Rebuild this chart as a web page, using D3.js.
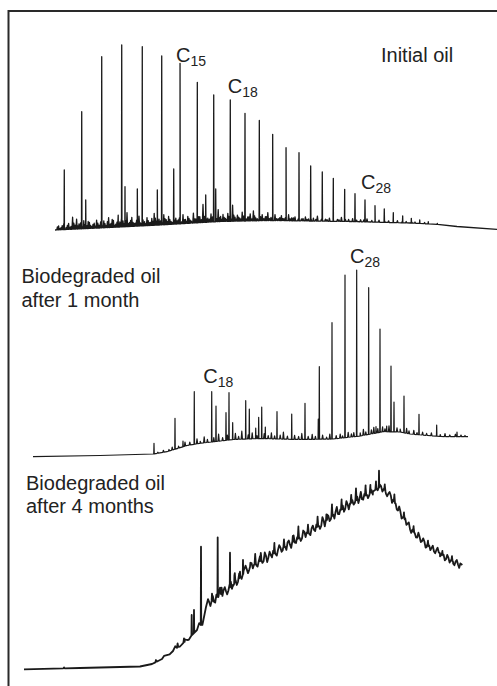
<!DOCTYPE html>
<html><head><meta charset="utf-8">
<script src="https://cdn.jsdelivr.net/npm/d3@7"></script>
<style>
html,body{margin:0;padding:0;background:#fff;}
svg{display:block;}
text{font-family:"Liberation Sans",Arial,Helvetica,sans-serif;fill:#222;}
</style></head>
<body>
<script>
// ---------- DATA (retention time in min, intensity in %) ----------
const panelNames = ["Initial oil", "Biodegraded oil after 1 month", "Biodegraded oil after 4 months"];

// Initial oil
const base1 = [[0,2.5],[5.6,3.5],[13.1,5],[20.6,6.75],[26.9,7.25],[36.9,6.75],[44.4,6],[47.75,5.35],[50.25,4.25],[55.25,2.85]];
const peaks1 = [[1.16,32.5],[3.34,61.65],[3.84,17.5],[5.84,89.15],[8.34,95],[8.75,24.15],[10.29,23],[10.91,94.15],[12.79,22.5],[13.34,89.5],[14.84,33],[15.63,85.85],[17.79,76.35],[18.84,20],[19.84,70],[20.09,23],[21.91,67.5],[23.75,60.85],[25.54,57.25],[27.21,50.35],[28.88,43.65],[30.5,41.15],[31.96,34.5],[33.41,31.5],[34.79,28.35],[36.21,22.85],[37.5,20.65],[38.75,17.5],[40,14.65],[41.16,13],[42.29,11.15],[43.46,9.5],[44.54,8.35],[45.59,7.5],[46.66,6.65],[47.79,5.85]];
const grass1 = [[0.3,1.5],[0.6,0.5],[0.9,2],[1.4,1],[1.7,3],[2.0,1.5],[2.2,6],[2.5,2],[2.7,5],[3.0,2.5],[3.6,4],[4.0,1.5],[4.3,3],[4.6,1],[4.9,2.5],[5.2,4],[5.5,1.5],[6.1,3.5],[6.4,1],[6.7,5],[7.0,2],[7.3,3.5],[7.6,1.5],[7.9,6],[8.1,2.5],[8.5,3],[9.0,7],[9.3,2],[9.6,4.5],[9.9,1.5],[10.2,3],[10.5,5],[11.2,2],[11.5,4],[11.8,1.5],[12.1,3.5],[12.4,6],[12.7,2],[13.0,3],[13.6,5],[13.9,2.5],[14.2,4],[14.5,1.5],[15.1,3],[15.4,2],[16.0,4.5],[16.3,2],[16.6,3.5],[16.9,1.5],[17.3,5],[17.6,2],[18.1,3],[18.5,9],[18.7,3],[19.1,2],[19.5,4],[20.4,6],[20.7,2.5],[21.0,3.5],[21.3,1.5],[21.6,4],[22.2,8],[22.5,2],[22.8,3],[23.1,1.5],[23.4,4.5],[24.1,2],[24.4,3.5],[24.8,5],[25.1,1.5],[25.9,3],[26.3,2],[26.6,4],[27.0,1.5],[27.5,3],[27.9,1],[28.3,2.5],[28.6,1],[29.2,3],[29.6,1.5],[30.0,2],[30.8,1],[31.3,2],[31.7,1],[32.3,1.5],[32.8,2.5],[33.8,1],[34.3,1.5],[35.3,1],[35.8,2],[36.7,1],[37.2,1.5],[38.2,1],[39.0,1.5],[39.6,0.8],[40.5,1],[41.7,0.8],[42.8,1],[43.9,0.7],[45.0,0.6],[46.2,0.6]];
const grass1b = [[0.45,2],[0.75,1],[1.1,3],[1.55,2],[1.85,1],[2.35,3],[2.85,1.5],[3.2,3],[3.45,1],[3.75,2],[4.15,3.5],[4.45,1.5],[4.75,2],[5.05,1],[5.35,2.5],[5.7,3],[5.95,1],[6.25,2],[6.55,3],[6.85,1.5],[7.15,4],[7.45,1],[7.75,2.5],[8.0,1.5],[8.3,4],[8.65,1.5],[8.85,3],[9.15,1.5],[9.45,3],[9.75,2],[10.05,1.5],[10.35,3.5],[10.7,1.5],[11.0,3],[11.35,1],[11.65,2.5],[11.95,1.5],[12.25,2],[12.55,3.5],[12.85,1.5],[13.2,2],[13.45,1],[13.75,3],[14.05,1.5],[14.35,2.5],[14.65,1],[14.95,2],[15.25,1.5],[15.55,3],[15.85,1],[16.15,2],[16.45,1],[16.75,2.5],[17.05,1],[17.45,2],[17.8,1.5],[17.95,3],[18.3,1.5],[18.9,2],[19.3,1.5],[19.7,2.5],[20.2,1.5],[20.55,2],[20.85,1],[21.15,2],[21.45,1],[21.75,2.5],[22.05,1],[22.35,3],[22.65,1],[22.95,2],[23.25,1],[23.6,2.5],[23.9,1],[24.25,2],[24.6,1],[24.95,2.5],[25.3,1],[25.7,2],[26.1,1],[26.45,2],[26.8,1],[27.2,2],[27.7,1],[28.1,1.5],[28.45,1],[28.8,1.5],[29.4,1],[29.8,1.5],[30.4,1],[31.0,1.2],[31.5,0.8],[32.0,1.2],[32.6,0.8],[33.3,1],[34.0,0.8],[34.8,1],[35.5,0.8],[36.3,1],[37.7,0.8],[38.6,1],[40.0,0.7],[41.2,0.7],[42.3,0.8],[43.4,0.6],[44.6,0.5]];

// After 1 month
const base2 = [[0,1.65],[8.375,2.25],[15,3],[16.75,4.15],[19.25,7.25],[20.875,8.35],[25,10.25],[28.375,10.75],[33.375,10.25],[37.5,10.5],[40.875,12],[43.75,14.15],[45.875,14],[47.125,13],[50.875,11.75],[54.375,11.65]];
const peaks2 = [[15.125,8.35],[17.75,20.85],[18.75,9.5],[20.16,34.15],[22.34,34.15],[22.875,27],[24.125,23.65],[24.5,33.65],[24.96,18.65],[26.59,29.65],[27.04,25.5],[27.84,16],[28.21,21.35],[28.59,26.5],[29.04,16.5],[30.5,24.15],[32.34,23],[34,28.35],[35.66,20.5],[35.79,46.65],[37.375,68.65],[39,92.5],[40.46,95],[41.96,86.15],[42.875,16.65],[43.375,65.5],[44.21,17],[44.75,47],[45.125,29],[46.375,32],[48.25,22.85],[50.46,17.5],[53,14]];
const grass2 = [[15.6,0.5],[16.3,1],[17.0,0.8],[17.4,1.5],[18.2,1],[19.0,2],[19.6,1.5],[20.5,2.5],[20.9,1],[21.4,3],[21.8,1.5],[22.6,2],[23.2,3.5],[23.7,1.5],[24.3,2.5],[25.3,3],[25.7,1.5],[26.1,4],[26.9,2],[27.4,3],[28.0,1.5],[28.9,2.5],[29.4,1.5],[29.8,3],[30.2,1.5],[30.9,2],[31.3,3.5],[31.8,1.5],[32.7,2],[33.2,1.5],[33.6,3],[34.4,1.5],[34.9,2.5],[35.3,1.5],[36.2,2],[36.7,1],[37.1,2.5],[37.9,1.5],[38.4,2],[38.7,1],[39.4,2.5],[39.8,1.5],[40.1,2],[40.9,1.5],[41.3,3],[41.6,1.5],[42.3,2],[42.6,3],[43.1,2],[43.7,2.5],[44.0,1.5],[44.5,3],[45.5,2],[45.9,1.5],[46.7,2.5],[47.0,1.5],[47.6,2],[48.0,1],[48.7,1.5],[49.2,1],[49.8,1.5],[50.9,1],[51.5,1.5],[52.1,0.8],[52.8,1.2],[53.5,0.8],[54.0,0.6]];

// After 4 months
const base3 = [[0,2.85],[7,3.5],[14.5,4.25],[16,5.5],[17.25,8],[18.625,12],[20.375,17.5],[21.625,22.5],[22.375,26.5],[22.75,34],[24.125,39],[26.125,45],[28.25,54],[32.375,63.5],[36.625,74],[40.75,85.75],[43.625,91.75],[44.625,94.5],[46.125,87.5],[47.375,79],[48.625,71.75],[50.375,65],[52,60.85],[53.625,56.65],[54.79,55]];
const peaks3 = [[20.96,30],[21.25,32.5],[22.125,64.15],[24.21,68.85],[25.75,61.15],[27.375,57.5],[44.375,102.15]];
const grass3 = [[5,0.5],[16.5,1],[19.2,2],[20.0,2],[23.5,4],[24.7,3],[26.35,5],[27.0,3],[28.9,5],[29.6,4],[31.3,5],[32.5,4],[33.6,3],[34.3,6],[35.5,4],[36.7,5],[37.8,3],[38.5,6],[39.7,5],[40.9,4],[41.5,6],[42.7,5],[43.3,4],[44.0,4],[45.1,3],[46.3,4],[47.5,3],[48.7,3],[50.5,2.5],[52.3,2],[53.5,2.5]];
const jitter3 = [[17.5,0.8],[18.2,-0.5],[18.9,1.5],[19.5,-0.5],[20.1,1.2],[20.6,-0.8],[21.9,2],[22.3,-1],[23.0,3],[23.3,-1.5],[23.6,2.5],[23.9,-2],[24.5,3.5],[24.8,-1.5],[25.1,2],[25.4,-2.5],[25.7,1.5],[26.0,-1.5],[26.3,4],[26.6,-2],[26.9,2.5],[27.2,-1.5],[27.7,3],[28.0,-2],[28.3,2],[28.6,-1.5],[28.9,4.5],[29.2,-2],[29.5,2.5],[29.8,-1.5],[30.1,3],[30.4,-2.5],[30.7,2],[31.0,-1.5],[31.3,4],[31.6,-2],[31.9,2.5],[32.2,-1.5],[32.5,3.5],[32.8,-2],[33.1,2],[33.4,-2.5],[33.7,3],[34.0,-1.5],[34.3,5],[34.6,-2],[34.9,2.5],[35.2,-1.5],[35.5,3.5],[35.8,-2],[36.1,2],[36.4,-1.5],[36.7,4.5],[37.0,-2],[37.3,3],[37.6,-2.5],[37.9,2.5],[38.2,-1.5],[38.5,5],[38.8,-2],[39.1,3],[39.4,-1.5],[39.7,4],[40.0,-2],[40.3,2.5],[40.6,-2.5],[40.9,3.5],[41.2,-1.5],[41.5,5.5],[41.8,-2],[42.1,3],[42.4,-1.5],[42.7,4],[43.0,-2],[43.3,3],[43.6,-1.5],[44.0,3],[44.8,-2],[45.1,2.5],[45.4,-1.5],[45.7,2],[46.0,-2],[46.3,3.5],[46.6,-1.5],[46.9,2],[47.2,-2],[47.5,2.5],[47.8,-1.5],[48.1,1.5],[48.4,-2],[48.7,2.5],[49.0,-1.5],[49.3,2],[49.6,-1.5],[49.9,1.5],[50.2,-2],[50.5,2],[50.8,-1.5],[51.1,1.5],[51.4,-1.5],[51.7,2],[52.0,-1.5],[52.3,1.5],[52.6,-2],[52.9,1.5],[53.2,-1.5],[53.5,2],[53.8,-1.5],[54.1,1.5],[54.4,-2]];
const jitter3b = [[23.15,1],[23.45,0.5],[23.75,-1],[24.05,1.5],[24.3,-0.5],[24.65,0],[24.95,1],[25.25,-0.5],[25.55,-1],[25.85,2.5],[26.15,-0.5],[26.45,1],[26.75,-1],[27.05,0],[27.45,1.5],[27.85,0.5],[28.15,-1],[28.45,1.5],[28.75,0],[29.05,-1],[29.35,0.5],[29.65,2],[29.95,-1],[30.25,1],[30.55,-0.5],[30.85,0],[31.15,1.5],[31.45,-1],[31.75,0.5],[32.05,1],[32.35,-1],[32.65,0],[32.95,1.5],[33.25,-0.5],[33.55,0.5],[33.85,-1],[34.15,1],[34.45,0],[34.75,-1],[35.05,1.5],[35.35,0.5],[35.65,-1],[35.95,1],[36.25,-0.5],[36.55,1.5],[36.85,0],[37.15,-1],[37.45,1],[37.75,0],[38.05,1.5],[38.35,-1],[38.65,0.5],[38.95,1],[39.25,-1],[39.55,0.5],[39.85,1.5],[40.15,-1],[40.45,0.5],[40.75,-0.5],[41.05,1],[41.35,-1],[41.65,1.5],[41.95,0],[42.25,-1],[42.55,1],[42.85,0],[43.15,-1],[43.45,1],[43.8,0],[44.2,-1],[44.5,1],[44.95,0],[45.25,-1],[45.55,0.5],[45.85,1],[46.15,-0.5],[46.45,0.5],[46.75,-1],[47.05,0.5],[47.35,-0.5],[47.65,1],[47.95,0],[48.25,-1],[48.55,0.5],[48.85,0],[49.15,-1],[49.45,0.5],[49.75,-0.5],[50.05,0.5],[50.35,-1],[50.65,0.5],[50.95,0],[51.25,-1],[51.55,0.5],[51.85,0],[52.15,-0.5],[52.45,0.5],[52.75,-1],[53.05,0.5],[53.35,0],[53.65,-1],[53.95,0.5],[54.25,-0.5],[54.55,0.5]];

// peak labels: [panel, subscript, t, intensity]
const labels = [[0,"15",15.125,86.5],[0,"18",21.59,71.15],[0,"28",38.25,22.85],[1,"18",21.29,38.35],[1,"28",39.625,98.35]];

// ---------- LAYOUT ----------
const W = 497, H = 686;
const svg = d3.select("body").append("svg").attr("width", W).attr("height", H);

const panels = [
  {base: base1, peaks: peaks1, grass: grass1.concat(grass1b), jitter: [], x0: 55, y0: 235, sw: 1.3},
  {base: base2, peaks: peaks2, grass: grass2, jitter: [], x0: 33, y0: 460, sw: 1.2},
  {base: base3, peaks: peaks3, grass: grass3, jitter: jitter3.concat(jitter3b), x0: 24, y0: 675, sw: 1.8}
];

panels.forEach(p => {
  p.x = d3.scaleLinear().domain([0, 60]).range([p.x0, p.x0 + 480]);
  p.y = d3.scaleLinear().domain([0, 100]).range([p.y0, p.y0 - 200]);
  p.bl = d3.scaleLinear().domain(p.base.map(d => d[0])).range(p.base.map(d => d[1])).clamp(true);
});

function tracePoints(p) {
  const pts = [];
  p.base.forEach(d => pts.push([d[0], d[1]]));
  p.grass.forEach(([t, h]) => {
    pts.push([t - 0.08, p.bl(t - 0.08)]);
    pts.push([t, p.bl(t) + h]);
    pts.push([t + 0.08, p.bl(t + 0.08)]);
  });
  p.jitter.forEach(([t, d]) => pts.push([t, p.bl(t) + d]));
  p.peaks.forEach(([t, top]) => {
    pts.push([t - 0.03, p.bl(t - 0.03)]);
    pts.push([t, top]);
    pts.push([t + 0.03, p.bl(t + 0.03)]);
  });
  pts.sort((a, b) => a[0] - b[0]);
  const tmin = p.base[0][0], tmax = p.base[p.base.length - 1][0];
  return pts.filter(d => d[0] >= tmin && d[0] <= tmax);
}

panels.forEach(p => {
  const line = d3.line().x(d => p.x(d[0])).y(d => p.y(d[1]));
  svg.append("path")
    .attr("d", line(tracePoints(p)))
    .attr("fill", "none")
    .attr("stroke", "#1a1a1a")
    .attr("stroke-width", p.sw)
    .attr("stroke-linejoin", "round");
});

// frame
svg.append("path").attr("d", `M8.5,${H} V11 H${W}`)
  .attr("fill", "none").attr("stroke", "#2a2a2a").attr("stroke-width", 2);

// titles
const fs = 20;
svg.append("text").attr("x", 381).attr("y", 62).attr("font-size", fs).text("Initial oil");
const t2 = svg.append("text").attr("x", 21.5).attr("y", 283).attr("font-size", fs);
t2.append("tspan").attr("x", 21.5).text("Biodegraded oil");
t2.append("tspan").attr("x", 21.5).attr("dy", 24).text("after 1 month");
const t3 = svg.append("text").attr("x", 26).attr("y", 489.5).attr("font-size", fs);
t3.append("tspan").attr("x", 26).text("Biodegraded oil");
t3.append("tspan").attr("x", 26).attr("dy", 23.5).text("after 4 months");

// peak labels
labels.forEach(([pi, sub, t, I]) => {
  const p = panels[pi];
  const tx = svg.append("text").attr("x", p.x(t)).attr("y", p.y(I)).attr("font-size", fs);
  tx.append("tspan").text("C");
  tx.append("tspan").attr("font-size", 14).attr("dy", 4).text(sub);
});
</script>
</body></html>
